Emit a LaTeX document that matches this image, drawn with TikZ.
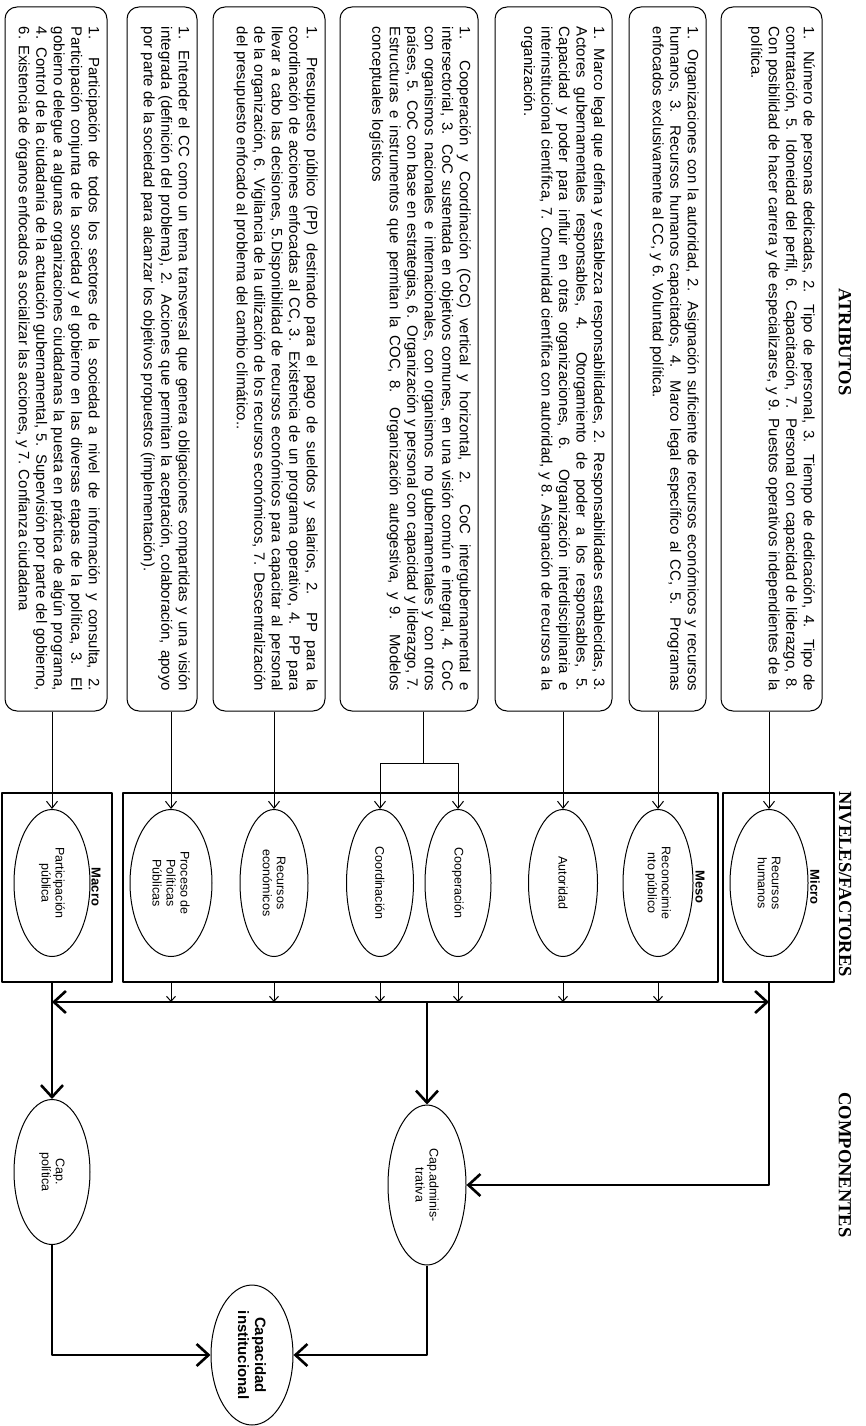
\documentclass[tikz,border=0pt]{standalone}
\usepackage{fontspec}
\setmainfont{Liberation Sans}
\newfontfamily\headfont{Liberation Serif}
\usetikzlibrary{shapes.geometric,arrows.meta}
\newcommand{\attrtext}[2]{\parbox[c][#1][t]{664pt}{\fontsize{15}{17.5}\selectfont\hyphenpenalty=10000\exhyphenpenalty=10000 #2}}

\begin{document}
\begin{tikzpicture}[x=1pt,y=-1pt,line join=round,>={Straight Barb[length=7pt,width=11pt]}]
	\tikzset{every node/.style={rotate=-90},
		attr/.style={draw,rounded corners=12pt,line width=1pt,inner xsep=20pt,inner ysep=7pt},
		level/.style={draw,line width=1.3pt,inner sep=0pt,minimum width=189pt},
		factor/.style={draw,ellipse,line width=1pt,inner sep=0pt,minimum width=147pt,align=center,font=\fontsize{12.5}{14}\selectfont},
		head/.style={font=\headfont\bfseries\fontsize{18.5}{20}\selectfont},
		lvlname/.style={font=\bfseries\fontsize{13}{15}\selectfont},
		feed/.style={->,line width=1pt},
		bigarrow/.style={->,line width=2.6pt,>={Straight Barb[length=12pt,width=22pt]}}}
	\useasboundingbox (0,0) rectangle (865,1426);
	\node[head] (atr) at (845,342) {ATRIBUTOS};
	\node[head] (niv) at (845,884) {NIVELES/FACTORES};
	\node[head] (com) at (845,1165) {COMPONENTES};
	\node[attr] (b1) at (771.5,359) {\attrtext{87pt}{1. Número de personas dedicadas, 2. Tipo de personal, 3. Tiempo de dedicación, 4. Tipo de\linebreak contratación, 5. Idoneidad del perfil, 6. Capacitación, 7. Personal con capacidad de liderazgo, 8.\linebreak Con posibilidad de hacer carrera y de especializarse, y 9. Puestos operativos independientes de la\linebreak política.}};
	\node[attr] (b2) at (667.5,359) {\attrtext{63pt}{1. Organizaciones con la autoridad, 2. Asignación suficiente de recursos económicos y recursos\linebreak humanos, 3. Recursos humanos capacitados, 4. Marco legal específico al CC, 5. Programas\linebreak enfocados exclusivamente al CC, y 6. Voluntad política.}};
	\node[attr] (b3) at (553.5,359) {\attrtext{103pt}{1. Marco legal que defina y establezca responsabilidades, 2. Responsabilidades establecidas, 3.\linebreak Actores gubernamentales responsables, 4. Otorgamiento de poder a los responsables, 5.\linebreak Capacidad y poder para influir en otras organizaciones, 6. Organización interdisciplinaria e\linebreak interinstitucional científica, 7. Comunidad científica con autoridad, y 8. Asignación de recursos a la\linebreak organización.}};
	\node[attr] (b4) at (409,359) {\attrtext{124pt}{1. Cooperación y Coordinación (CoC) vertical y horizontal, 2. CoC intergubernamental e\linebreak intersectorial, 3. CoC sustentada en objetivos comunes, en una visión común e integral, 4. CoC\linebreak con organismos nacionales e internacionales, con organismos no gubernamentales y con otros\linebreak países, 5. CoC con base en estrategias, 6. Organización y personal con capacidad y liderazgo, 7.\linebreak Estructuras e instrumentos que permitan la COC, 8. Organización autogestiva, y 9. Modelos\linebreak conceptuales logísticos}};
	\node[attr] (b5) at (269,359) {\attrtext{98pt}{1. Presupuesto público (PP) destinado para el pago de sueldos y salarios, 2. PP para la\linebreak coordinación de acciones enfocadas al CC, 3. Existencia de un programa operativo, 4. PP para\linebreak llevar a cabo las decisiones, 5.Disponibilidad de recursos económicos para capacitar al personal\linebreak de la organización, 6. Vigilancia de la utilización de los recursos económicos, 7. Descentralización\linebreak del presupuesto enfocado al problema del cambio climático..}};
	\node[attr] (b6) at (162,359) {\attrtext{56pt}{1. Entender el CC como un tema transversal que genera obligaciones compartidas y una visión\linebreak integrada (definición del problema), 2. Acciones que permitan la aceptación, colaboración, apoyo\linebreak por parte de la sociedad para alcanzar los objetivos propuestos (implementación).}};
	\node[attr] (b7) at (56,359) {\attrtext{88pt}{1. Participación de todos los sectores de la sociedad a nivel de información y consulta, 2.\linebreak Participación conjunta de la sociedad y el gobierno en las diversas etapas de la política, 3. El\linebreak gobierno delegue a algunas organizaciones ciudadanas la puesta en práctica de algún programa,\linebreak 4. Control de la ciudadanía de la actuación gubernamental, 5. Supervisión por parte del gobierno,\linebreak 6. Existencia de órganos enfocados a socializar las acciones, y 7. Confianza ciudadana}};
	\node[level,minimum height=111pt] (micro) at (778.5,887.5) {};
	\node[level,minimum height=595pt] (meso) at (420.5,887.5) {};
	\node[level,minimum height=110pt] (macro) at (57,887.5) {};
	\node[lvlname] (microl) at (815,887) {Micro};
	\node[lvlname] (mesol) at (700,887) {Meso};
	\node[lvlname] (macrol) at (96,887) {Macro};
	\foreach \n/\x/\w/\t in {rh/769/78/{Recursos\\humanos},rp/658/70/{Reconocimie\\nto público},au/563/69/Autoridad,coop/458/66/Cooperación,coord/380/67/Coordinación,re/274/68/{Recursos\\económicos},ppp/171/82/{Proceso de\\Políticas\\Públicas},pp/52/76/{Participación\\pública}}
	\node[factor,minimum height=\w] (\n) at (\x,883) {\t};
	\foreach \b/\f in {b1/rh,b2/rp,b3/au,b5/re,b6/ppp,b7/pp}
	\draw[feed] (\f |- \b.east) -- (\f);
	\coordinate (cocsplit) at (423,763);
	\draw[line width=1pt] (cocsplit |- b4.east) -- (cocsplit);
	\draw[feed] (cocsplit) -| (coop);
	\draw[feed] (cocsplit) -| (coord);
	\node[factor,minimum width=160,minimum height=78] (ca) at (427,1185) {Cap.adminis-\\trativa};
	\node[factor,minimum width=145,minimum height=76] (cpol) at (52,1172) {Cap.\\política};
	\node[factor,minimum width=140,minimum height=82,font=\bfseries\fontsize{15}{17}\selectfont] (ci) at (252,1355) {Capacidad\\institucional};
	\coordinate (bus) at (427,1002);
	\foreach \f in {ppp,re,coord,coop,au,rp}
	\draw[feed,>={Straight Barb[length=5pt,width=9pt]}] (\f |- meso.east) -- (\f |- bus);
	\draw[bigarrow,<->] (bus -| pp) -- (bus -| rh);
	\draw[bigarrow] (bus) -- (ca);
	\draw[bigarrow] (rh |- micro.east) |- (ca);
	\draw[bigarrow] (cpol |- macro.east) -- (cpol);
	\draw[bigarrow] (ca) |- (ci);
	\draw[bigarrow] (cpol) |- (ci);
\end{tikzpicture}
\end{document}
